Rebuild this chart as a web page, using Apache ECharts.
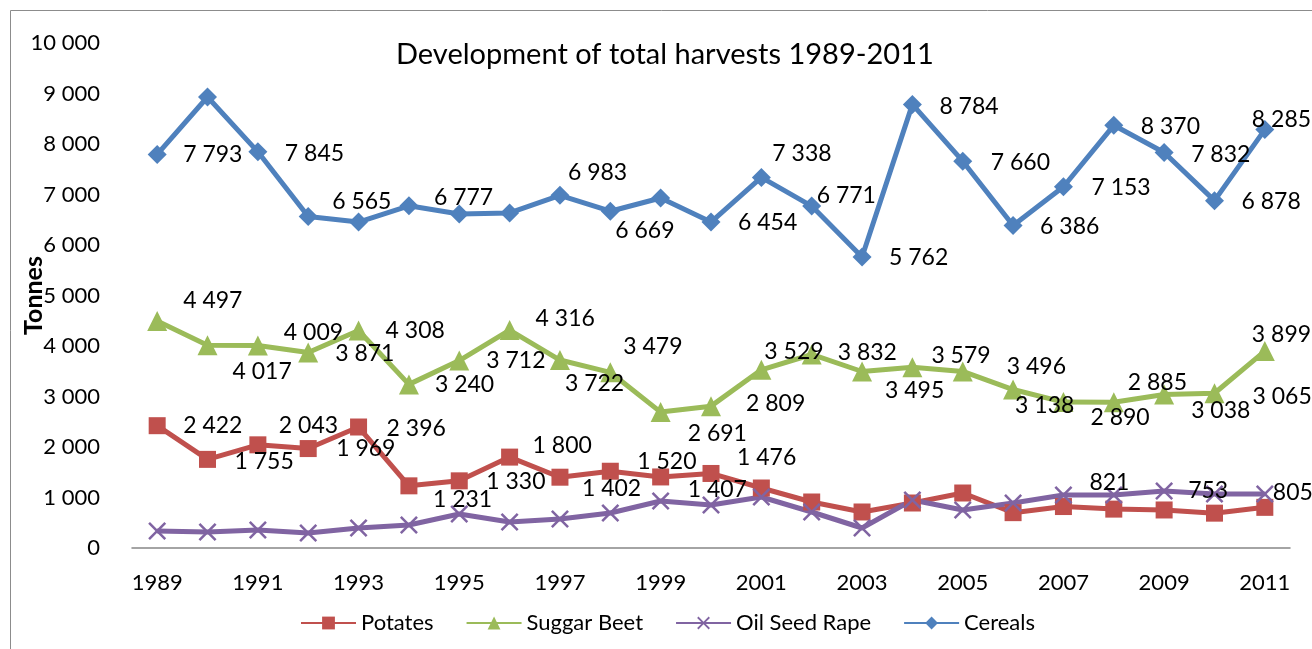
<!DOCTYPE html>
<html>
<head>
<meta charset="utf-8">
<script src="https://cdn.jsdelivr.net/npm/echarts@6/dist/echarts.min.js"></script>
<style>
  html, body { margin: 0; padding: 0; background: #fff; }
  #chart { width: 1312px; height: 649px; }
</style>
</head>
<body>
<div id="chart"></div>
<script>
const years = ['1989', '1990', '1991', '1992', '1993', '1994', '1995', '1996', '1997', '1998', '1999', '2000',
  '2001', '2002', '2003', '2004', '2005', '2006', '2007', '2008', '2009', '2010', '2011']

const potatoes = [2422, 1755, 2043, 1969, 2396, 1231, 1330, 1800, 1402, 1520, 1407, 1476,
  1188, 911, 713, 891, 1089, 700, 821, 770, 753, 690, 805]
const suggarBeet = [4497, 4017, 4009, 3871, 4308, 3240, 3712, 4316, 3722, 3479, 2691, 2809,
  3529, 3832, 3495, 3579, 3496, 3138, 2890, 2885, 3038, 3065, 3899]
const oilSeedRape = [337, 317, 356, 297, 396, 455, 673, 515, 574, 693, 931, 851,
  1010, 713, 396, 950, 752, 891, 1050, 1050, 1129, 1069, 1069]
const cereals = [7793, 8931, 7845, 6565, 6455, 6777, 6614, 6634, 6983, 6669, 6931, 6454,
  7338, 6771, 5762, 8784, 7660, 6386, 7153, 8370, 7832, 6878, 8285]

const yTicks = { min: 0, max: 10000, step: 1000 }

// label placement like in the excel sheet: [dx of left edge, dy of centre], null = no label
const potatoLabelPos = [[26, 0], [27, 2], [21, -19], [28, 0], [28, 2], [24, 14], [27, 1], [23, -12], [22, 11], [27, -10], [27, 13], [26, -16],
  null, null, null, null, null, null, [26, -24], null, [24, -19], null, [8, -15]]
const beetLabelPos = [[26, -20], [25, 26], [26, -13], [27, 1], [27, 0], [26, 0], [27, 0], [26, -11], [5, 24], [13, -26], [27, 21], [35, -3],
  [3, -18], [26, -2], [23, 19], [19, -12], [44, -5], [2, 16], [27, 16], [14, -20], [27, 16], [38, 3], [-13, -17]]
const rapeLabelPos = years.map(() => null)
const cerealLabelPos = [[26, 0], null, [27, 2], [24, -15], null, [25, -8], null, null, [8, -23], [5, 19], null, [27, 1],
  [11, -24], [5, -10], [27, 1], [27, 2], [28, 1], [27, 1], [28, 1], [27, 1], [27, 2], [27, 1], [-13, -10]]

const FONT = 'Lato, "Open Sans", sans-serif'

function fmt(v) {
  return String(v).replace(/\B(?=(\d{3})+(?!\d))/g, ' ')
}

function buildData(values, pos, symSize) {
  return values.map((v, i) => {
    const p = pos[i]
    if (!p) return { value: v, label: { show: false } }
    return { value: v, label: { show: true, offset: [p[0] - symSize / 2, p[1]] } }
  })
}

const crossPath = 'path://M0,1 L1,0 L5,4 L9,0 L10,1 L6,5 L10,9 L9,10 L5,6 L1,10 L0,9 L4,5 Z'

function makeSeries(name, values, pos, color, symbol, symSize) {
  return {
    name,
    type: 'line',
    data: buildData(values, pos, symSize),
    symbol,
    symbolSize: symSize,
    showAllSymbol: true,
    lineStyle: { color, width: 5 },
    itemStyle: { color },
    label: {
      show: true,
      position: 'right',
      distance: 0,
      color: '#000',
      fontSize: 23,
      fontFamily: FONT,
      formatter: (p) => fmt(p.value),
    },
    emphasis: { disabled: true },
    animation: false,
  }
}

const chart = echarts.init(document.getElementById('chart'))

chart.setOption({
  backgroundColor: '#fff',
  animation: false,
  title: {
    text: 'Development of total harvests 1989-2011',
    left: 391,
    top: 35,
    textStyle: { color: '#000', fontSize: 29, fontWeight: 'normal', fontFamily: FONT },
  },
  graphic: [{
    type: 'rect',
    shape: { x: 10.5, y: 10.5, width: 1320, height: 660 },
    style: { fill: 'none', stroke: '#8c8c8c', lineWidth: 1 },
    silent: true,
  }],
  legend: {
    left: 295,
    top: 607,
    itemWidth: 55,
    itemHeight: 16,
    itemGap: 32,
    textStyle: { color: '#000', fontSize: 22, fontFamily: FONT },
    data: ['Potates', 'Suggar Beet', 'Oil Seed Rape', 'Cereals'],
  },
  grid: { left: 132, right: 22, top: 43, bottom: 101, outerBoundsMode: 'none' },
  xAxis: {
    type: 'category',
    data: years,
    boundaryGap: true,
    axisLine: { lineStyle: { color: '#868686', width: 1.5 } },
    axisTick: { show: false },
    axisLabel: { color: '#000', fontSize: 22, fontFamily: FONT, interval: 1, margin: 24 },
  },
  yAxis: {
    type: 'value',
    min: yTicks.min,
    max: yTicks.max,
    interval: yTicks.step,
    name: 'Tonnes',
    nameLocation: 'middle',
    nameGap: 86,
    nameMoveOverlap: false,
    nameTextStyle: { color: '#000', fontSize: 25, fontWeight: 'bold', fontFamily: FONT },
    axisLine: { show: false },
    axisTick: { show: false },
    splitLine: { show: false },
    axisLabel: { color: '#000', fontSize: 22, fontFamily: FONT, margin: 32, formatter: fmt },
  },
  series: [
    makeSeries('Potates', potatoes, potatoLabelPos, '#c0504d', 'rect', 17),
    makeSeries('Suggar Beet', suggarBeet, beetLabelPos, '#9bbb59', 'triangle', 20),
    makeSeries('Oil Seed Rape', oilSeedRape, rapeLabelPos, '#8064a2', crossPath, 18),
    makeSeries('Cereals', cereals, cerealLabelPos, '#4f81bd', 'diamond', 19),
  ],
})
</script>
</body>
</html>
